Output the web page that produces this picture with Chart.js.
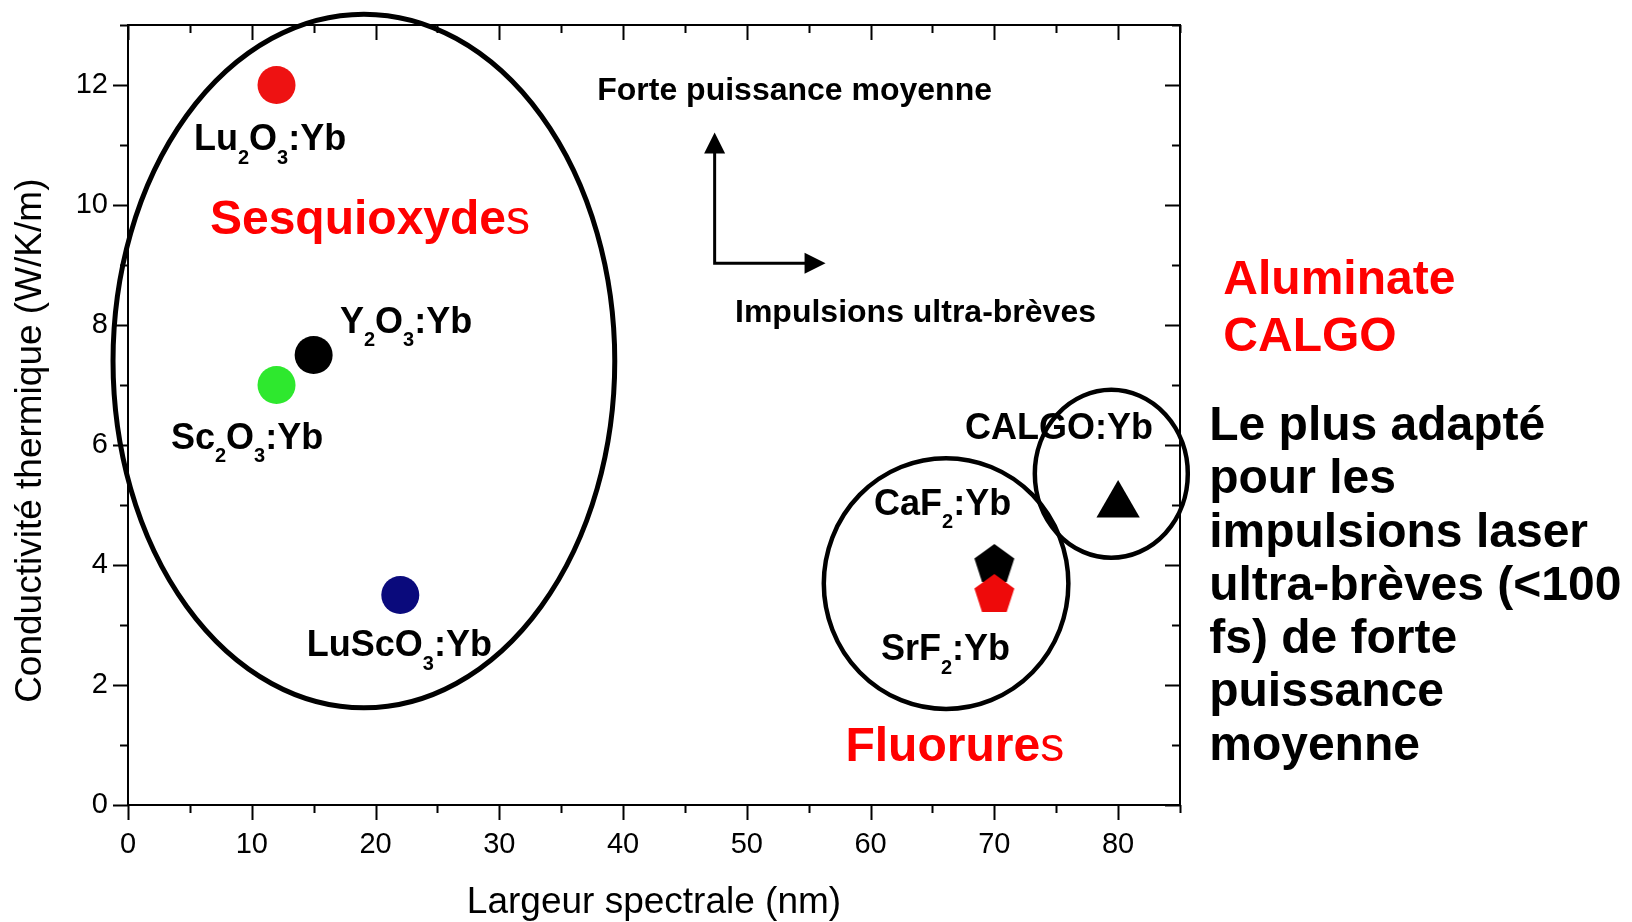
<!DOCTYPE html>
<html><head><meta charset="utf-8">
<script src="https://cdn.jsdelivr.net/npm/chart.js@4.4.1/dist/chart.umd.min.js"></script>
<style>html,body{margin:0;padding:0;background:#fff;}#wrap{width:1632px;height:922px;}</style>
</head><body><div id="wrap"><canvas id="c" width="1632" height="922"></canvas></div>
<script>
// ---------------- DATA ----------------
const materials = ['Lu_2O_3:Yb', 'Y_2O_3:Yb', 'Sc_2O_3:Yb', 'LuScO_3:Yb', 'CaF_2:Yb', 'SrF_2:Yb', 'CALGO:Yb'];
const spectralWidth = [12, 15, 12, 22, 70, 70, 80];          // nm
const thermalConductivity = [12, 7.5, 7, 3.5, 4, 3.5, 5];      // W/K/m
const xTickLabels = ['0', '10', '20', '30', '40', '50', '60', '70', '80'];
const yTickLabels = ['0', '2', '4', '6', '8', '10', '12'];
const groupNames = ['Sesquioxydes', 'Fluorures', 'Aluminate CALGO'];
const groupCenterX = [19.06, 66.1, 79.45];
const groupCenterY = [7.40, 3.69, 5.52];
const groupRadiusX = [20.27, 9.88, 6.18];
const groupRadiusY = [5.78, 2.09, 1.40];

// ---------------- STYLE / LAYOUT ----------------
const FONT = '"Liberation Sans", Arial, Helvetica, sans-serif';
const pointColors = ['#ee1212', '#000000', '#2ee82e', '#0a0a7c', '#000000', '#ee0a0a', '#000000'];
function pentagon(color, R) {
  const s = Math.ceil(2 * R + 4), c = document.createElement('canvas');
  c.width = s; c.height = s;
  const g = c.getContext('2d');
  g.fillStyle = color; g.beginPath();
  for (let k = 0; k < 5; k++) {
    const a = -Math.PI / 2 + k * 2 * Math.PI / 5;
    const px = s / 2 + R * Math.cos(a), py = s / 2 + R * Math.sin(a);
    k ? g.lineTo(px, py) : g.moveTo(px, py);
  }
  g.closePath(); g.fill();
  return c;
}
const pointStyles = ['circle', 'circle', 'circle', 'circle', pentagon('#000000', 21), pentagon('#ee0a0a', 21), 'triangle'];
const pointRadii = [19, 19, 19, 19, 21, 21, 25];
const groupLineWidths = [5, 4.5, 4.5];
// label anchors (left, baseline) in data units
const labelPos = [[5.33, 10.91], [17.12, 7.87], [3.47, 5.94], [14.45, 2.48], [60.28, 4.84], [60.84, 2.415], [67.62, 6.10]];
const groupLabels = [
  { parts: [['Sesquioxyde', 'bold'], ['s', 'normal']], x: 6.62, y: 9.73 },
  { parts: [['Fluorure', 'bold'], ['s', 'normal']], x: 57.97, y: 0.956 },
  { parts: [['Aluminate', 'bold']], x: 88.5, y: 8.73 },
  { parts: [['CALGO', 'bold']], x: 88.5, y: 7.79 }
];
const arrowOrigin = [47.4, 9.03], arrowUpTip = [47.4, 11.21], arrowRightTip = [56.36, 9.03];
const arrowTexts = [
  { text: 'Forte puissance moyenne', x: 53.86, y: 11.90 },
  { text: 'Impulsions ultra-brèves', x: 63.63, y: 8.205 }
];
const noteLines = ['Le plus adapté', 'pour les', 'impulsions laser', 'ultra-brèves (<100', 'fs) de forte', 'puissance', 'moyenne'];
const noteX = 87.36, noteY0 = 6.08, noteStep = 0.8875;

// ---------------- HELPERS ----------------
function drawFormula(ctx, str, x, y, size) {
  const parts = [];
  for (let i = 0; i < str.length; i++) {
    if (str[i] === '_') { parts.push({ t: str[i + 1], sub: true }); i++; }
    else if (parts.length && !parts[parts.length - 1].sub) parts[parts.length - 1].t += str[i];
    else parts.push({ t: str[i], sub: false });
  }
  let cx = x;
  ctx.textAlign = 'left'; ctx.textBaseline = 'alphabetic';
  for (const p of parts) {
    ctx.font = 'bold ' + (p.sub ? Math.round(size * 0.55) : size) + 'px ' + FONT;
    ctx.fillText(p.t, cx, p.sub ? y + size * 0.38 : y);
    cx += ctx.measureText(p.t).width;
  }
}
function arrowHead(ctx, tx, ty, dx, dy, len, half) {
  const bx = tx - dx * len, by = ty - dy * len;
  ctx.beginPath();
  ctx.moveTo(tx, ty);
  ctx.lineTo(bx - dy * half, by + dx * half);
  ctx.lineTo(bx + dy * half, by - dx * half);
  ctx.closePath(); ctx.fill();
}

const decorPlugin = {
  id: 'decor',
  beforeDatasetsDraw(chart) {
    const { ctx, chartArea: a, scales: { x, y } } = chart;
    ctx.save();
    ctx.strokeStyle = '#000'; ctx.lineWidth = 2;
    ctx.strokeRect(a.left, a.top, a.right - a.left, a.bottom - a.top);
    ctx.beginPath();
    for (let v = x.min; v <= x.max + 1e-9; v += 5) {
      const p = Math.round(x.getPixelForValue(v)) + 0.5, L = v % 10 === 0 ? 15 : 8;
      ctx.moveTo(p, a.bottom); ctx.lineTo(p, a.bottom + L);
      ctx.moveTo(p, a.top); ctx.lineTo(p, a.top + L);
    }
    for (let v = y.min; v <= y.max + 1e-9; v += 1) {
      const p = Math.round(y.getPixelForValue(v)) + 0.5, L = v % 2 === 0 ? 15 : 8;
      ctx.moveTo(a.left, p); ctx.lineTo(a.left - L, p);
      ctx.moveTo(a.right, p); ctx.lineTo(a.right - L, p);
    }
    ctx.stroke();
    // group ellipses
    for (let i = 0; i < groupNames.length; i++) {
      const cx = x.getPixelForValue(groupCenterX[i]), cy = y.getPixelForValue(groupCenterY[i]);
      const rx = Math.abs(x.getPixelForValue(groupCenterX[i] + groupRadiusX[i]) - cx);
      const ry = Math.abs(y.getPixelForValue(groupCenterY[i] + groupRadiusY[i]) - cy);
      ctx.lineWidth = groupLineWidths[i];
      ctx.beginPath(); ctx.ellipse(cx, cy, rx, ry, 0, 0, Math.PI * 2); ctx.stroke();
    }
    // arrows
    const ox = x.getPixelForValue(arrowOrigin[0]), oy = y.getPixelForValue(arrowOrigin[1]);
    const ux = x.getPixelForValue(arrowUpTip[0]), uy = y.getPixelForValue(arrowUpTip[1]);
    const rx = x.getPixelForValue(arrowRightTip[0]), ry = y.getPixelForValue(arrowRightTip[1]);
    ctx.lineWidth = 3; ctx.fillStyle = '#000';
    ctx.beginPath(); ctx.moveTo(ux, uy + 15); ctx.lineTo(ox, oy); ctx.lineTo(rx - 15, ry); ctx.stroke();
    arrowHead(ctx, ux, uy, 0, -1, 21, 10.5);
    arrowHead(ctx, rx, ry, 1, 0, 21, 10.5);
    ctx.restore();
  },
  afterDatasetsDraw(chart) {
    const { ctx, scales: { x, y } } = chart;
    ctx.save();
    ctx.fillStyle = '#000';
    materials.forEach((m, i) => {
      drawFormula(ctx, m, x.getPixelForValue(labelPos[i][0]), y.getPixelForValue(labelPos[i][1]), 36);
    });
    ctx.textBaseline = 'middle'; ctx.textAlign = 'center';
    ctx.font = 'bold 32px ' + FONT;
    arrowTexts.forEach(t => ctx.fillText(t.text, x.getPixelForValue(t.x), y.getPixelForValue(t.y)));
    ctx.fillStyle = '#ff0000'; ctx.textAlign = 'left';
    groupLabels.forEach(g => {
      let px = x.getPixelForValue(g.x); const py = y.getPixelForValue(g.y);
      g.parts.forEach(([t, w]) => {
        ctx.font = w + ' 48px ' + FONT;
        ctx.fillText(t, px, py);
        px += ctx.measureText(t).width;
      });
    });
    ctx.fillStyle = '#000'; ctx.textBaseline = 'alphabetic';
    ctx.font = 'bold 48px ' + FONT;
    noteLines.forEach((l, k) => ctx.fillText(l, x.getPixelForValue(noteX), y.getPixelForValue(noteY0 - k * noteStep)));
    ctx.restore();
  }
};

function noPad(s) { s.paddingTop = 0; s.paddingBottom = 0; s.paddingLeft = 0; s.paddingRight = 0; }

new Chart(document.getElementById('c'), {
  type: 'scatter',
  data: {
    datasets: [{
      label: 'Matériaux Yb',
      data: spectralWidth.map((v, i) => ({ x: v, y: thermalConductivity[i] })),
      pointStyle: pointStyles,
      backgroundColor: pointColors,
      borderColor: pointColors,
      pointBorderWidth: 0,
      pointRadius: pointRadii,
      pointHoverRadius: pointRadii
    }]
  },
  options: {
    responsive: false,
    animation: false,
    events: [],
    clip: false,
    layout: { padding: { top: 21, right: 452, left: 0, bottom: 0 } },
    plugins: { legend: { display: false }, tooltip: { enabled: false } },
    scales: {
      x: {
        type: 'linear', min: 0, max: 85,
        border: { display: false },
        grid: { display: false, drawTicks: false },
        ticks: {
          stepSize: 10, includeBounds: false, padding: 23, color: '#000',
          font: { family: FONT, size: 29 },
          callback: (v) => xTickLabels.includes(String(v)) ? String(v) : ''
        },
        title: { display: true, text: 'Largeur spectrale (nm)', color: '#000', font: { family: FONT, size: 37, lineHeight: 1 }, padding: { top: 0, bottom: 1 } },
        afterFit: (s) => { s.height = 117; noPad(s); }
      },
      y: {
        type: 'linear', min: 0, max: 13,
        border: { display: false },
        grid: { display: false, drawTicks: false },
        ticks: {
          stepSize: 2, includeBounds: false, padding: 20, color: '#000',
          font: { family: FONT, size: 29 },
          callback: (v) => yTickLabels.includes(String(v)) ? String(v) : ''
        },
        title: { display: true, text: 'Conductivité thermique (W/K/m)     ', color: '#000', font: { family: FONT, size: 37, lineHeight: 1.2 }, padding: { top: 9, bottom: 0 } },
        afterFit: (s) => { s.width = 128; noPad(s); }
      }
    }
  },
  plugins: [decorPlugin]
});
</script>
</body></html>
